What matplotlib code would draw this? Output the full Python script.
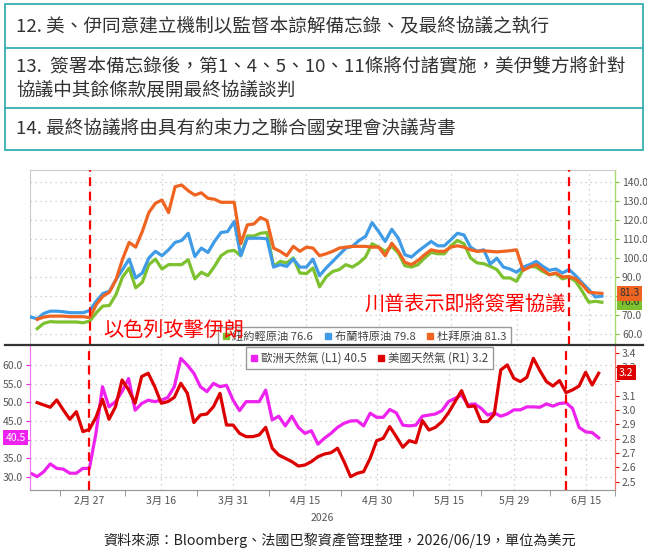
import numpy as np
import pandas as pd
import matplotlib
matplotlib.use('Agg')
import matplotlib.pyplot as plt
from matplotlib.patches import Rectangle
from matplotlib.lines import Line2D

plt.rcParams['font.family'] = ['Noto Sans CJK TC', 'DejaVu Sans']

# trading days shown on the chart
dates = pd.bdate_range('2026-02-16', '2026-06-17')
tick_dates = ['2026-02-27', '2026-03-16', '2026-03-31', '2026-04-15',
              '2026-04-30', '2026-05-15', '2026-05-29', '2026-06-15']
event_dates = ['2026-02-27', '2026-06-10']

nan = np.nan
wti = [nan, 62.7, 65.5, 66.4, 66.2, 66.2, 66.2, 66.2, 65.8, 66.7,
       71.1, 74.6, 74.9, 80.7, 89.9, 94.6, 84.2, 87.1, 96.4, 99.3,
       94.1, 96.4, 96.4, 96.4, 99.0, 88.9, 92.4, 90.6, 95.5, 101.1,
       103.4, 103.9, 101.1, 111.5, 111.5, 112.9, 113.3, 95.5, 98.1, 97.3,
       99.9, 92.0, 91.7, 94.6, 84.7, 89.9, 92.8, 93.8, 96.4, 95.1,
       97.3, 100.4, 107.4, 105.6, 103.4, 106.0, 102.5, 95.8, 95.1, 96.4,
       99.9, 102.8, 102.1, 102.1, 106.3, 109.1, 107.4, 99.9, 97.3, 96.9,
       95.5, 93.8, 89.4, 89.4, 87.6, 93.8, 95.5, 95.1, 92.8, 91.1,
       91.6, 88.9, 89.9, 87.6, 82.4, 76.6, 77.1, 76.6]
brent = [68.8, 67.9, 70.7, 71.9, 71.9, 71.6, 71.1, 71.1, 71.1, 72.3,
         77.2, 81.2, 82.4, 88.5, 93.8, 99.3, 89.4, 92.0, 99.9, 103.4,
         101.1, 104.2, 108.1, 109.1, 112.9, 100.7, 105.1, 102.8, 108.6, 113.3,
         113.8, 119.1, 101.1, 110.3, 110.3, 110.3, 110.0, 95.1, 96.4, 95.5,
         99.3, 95.1, 95.1, 99.3, 90.6, 94.6, 98.1, 101.6, 105.1, 106.0,
         109.1, 111.2, 118.5, 113.8, 108.6, 115.0, 110.3, 101.6, 100.4, 103.4,
         106.0, 108.6, 106.3, 106.3, 109.5, 112.9, 112.0, 105.6, 103.4, 104.2,
         96.7, 99.8, 95.1, 94.1, 92.4, 95.1, 96.4, 98.1, 95.5, 93.4,
         94.1, 92.0, 93.8, 90.6, 86.8, 83.3, 79.4, 79.8]
dubai = [nan, 67.6, 68.8, 69.3, 69.3, 69.3, 69.0, 69.0, 69.0, 68.5,
         75.4, 79.8, 81.9, 88.5, 99.3, 108.1, 105.6, 113.8, 123.8, 128.7,
         130.4, 123.8, 137.4, 138.3, 135.3, 133.0, 134.2, 131.3, 130.8, 129.2,
         129.2, 129.2, 107.4, 117.3, 117.8, 121.2, 119.6, 105.1, 103.4, 101.1,
         106.0, 103.4, 105.6, 105.1, 101.1, 102.1, 103.4, 105.1, 105.6, 106.0,
         106.0, 106.0, 105.6, 105.6, 101.1, 107.7, 103.4, 97.6, 96.4, 98.6,
         101.6, 104.2, 103.4, 103.4, 105.6, 106.3, 105.6, 104.2, 103.4, 103.7,
         103.4, 103.1, 103.4, 103.7, 104.2, 93.4, 95.1, 96.4, 93.8, 91.1,
         92.0, 89.9, 90.2, 88.9, 85.9, 81.9, 81.5, 81.3]
eu_gas = [31.0, 30.1, 31.4, 33.5, 32.3, 32.1, 31.0, 31.0, 32.3, 32.3,
          41.7, 54.2, 48.8, 50.2, 52.9, 56.4, 47.9, 49.7, 50.6, 50.2,
          50.6, 51.3, 54.2, 61.8, 60.0, 57.8, 54.2, 52.9, 55.1, 54.2,
          54.6, 50.6, 47.8, 50.2, 50.2, 50.2, 53.3, 45.3, 46.3, 43.7,
          46.3, 43.3, 41.7, 42.4, 38.8, 40.4, 41.7, 43.3, 44.4, 45.0,
          45.1, 43.7, 47.1, 46.0, 46.0, 48.1, 47.2, 43.9, 43.7, 43.9,
          46.3, 46.6, 46.9, 47.8, 50.2, 51.1, 52.0, 49.3, 49.6, 48.4,
          46.6, 47.2, 46.3, 46.9, 48.0, 48.0, 48.8, 48.8, 48.7, 49.6,
          49.0, 49.7, 49.9, 48.4, 43.3, 42.1, 41.9, 40.5]
us_gas = [nan, 3.051, 3.035, 3.019, 3.070, 3.000, 2.935, 2.988, 2.849, 2.865,
          2.949, 3.074, 2.935, 3.023, 3.209, 3.140, 3.047, 3.233, 3.256, 3.163,
          3.047, 3.058, 3.088, 3.186, 3.116, 2.912, 2.965, 2.972, 3.023, 3.116,
          2.895, 2.895, 2.837, 2.814, 2.814, 2.826, 2.879, 2.733, 2.686, 2.663,
          2.640, 2.609, 2.616, 2.640, 2.674, 2.693, 2.702, 2.733, 2.640, 2.535,
          2.558, 2.570, 2.663, 2.786, 2.802, 2.884, 2.814, 2.740, 2.786, 2.772,
          2.926, 2.860, 2.879, 2.919, 2.981, 3.058, 3.135, 3.023, 3.028, 2.919,
          2.919, 2.970, 3.279, 3.314, 3.221, 3.198, 3.228, 3.360, 3.274, 3.198,
          3.167, 3.205, 3.121, 3.140, 3.167, 3.263, 3.174, 3.256]

oil_names = ['紐約輕原油', '布蘭特原油', '杜拜原油']
oil_last = [76.6, 79.8, 81.3]
gas_names = ['歐洲天然氣 (L1)', '美國天然氣 (R1)']
gas_last = [40.5, 3.2]

header_rows = ['12. 美、伊同意建立機制以監督本諒解備忘錄、及最終協議之執行',
               '13.  簽署本備忘錄後，第1、4、5、10、11條將付諸實施，美伊雙方將針對',
               '協議中其餘條款展開最終協議談判',
               '14. 最終協議將由具有約束力之聯合國安理會決議背書']
source = '資料來源：Bloomberg、法國巴黎資產管理整理，2026/06/19，單位為美元'

GREEN = '#7DC22E'
BLUE = '#3F9BE6'
ORANGE = '#F06422'
MAGENTA = '#EE22EE'
RED = '#DD0000'
GRID = '#c4c4c4'

W, H = 647, 549
fig = plt.figure(figsize=(W / 100, H / 100), dpi=100)

def fx(px):
    return px / W

def fy(py):
    return 1 - py / H

def fmt_skip(skip):
    # hide the tick label that sits under a value tag
    def f(v, pos):
        return '' if abs(v - skip) < 1e-6 else '%.1f' % v
    return matplotlib.ticker.FuncFormatter(f)

x = np.arange(len(dates))
tick_idx = [dates.get_loc(pd.Timestamp(d)) for d in tick_dates]
tick_lab = ['%d月 %d' % (pd.Timestamp(d).month, pd.Timestamp(d).day) for d in tick_dates]
event_idx = [dates.get_loc(pd.Timestamp(d)) for d in event_dates]
minor_idx = [tick_idx[0] - 4.5] + [(a + b) / 2 for a, b in zip(tick_idx[:-1], tick_idx[1:])] + [tick_idx[-1] + 4.5]
xlim = (-0.1, 89.0)

# ---- header box
box_col = '#36AEB2'
fig.patches.append(Rectangle((fx(5), fy(150)), fx(638), 146 / H, transform=fig.transFigure,
                             fill=False, ec=box_col, lw=1.3))
for yy in (47.5, 107.5):
    fig.lines.append(Line2D([fx(5), fx(643)], [fy(yy), fy(yy)], transform=fig.transFigure,
                            color=box_col, lw=1.3))
for txt, yy in zip(header_rows, (26.5, 66, 90, 128)):
    fig.text(fx(16), fy(yy), txt, fontsize=13.4, color='#333333', va='center', ha='left')

# ---- top panel (oil)
ax1 = fig.add_axes([fx(30), fy(345), fx(585), 175 / H])
ax1.plot(x, wti, color=GREEN, lw=2.3, zorder=3)
ax1.plot(x, brent, color=BLUE, lw=2.3, zorder=3)
ax1.plot(x, dubai, color=ORANGE, lw=2.3, zorder=4)
ax1.set_xlim(*xlim)
ax1.set_ylim(54.1, 146.2)
ax1.set_yticks(np.arange(60, 141, 10))
ax1.yaxis.tick_right()
ax1.yaxis.set_major_formatter(fmt_skip(80))
ax1.tick_params(axis='y', labelsize=7.5, labelcolor='#555555', color=GREEN, length=3, pad=2)
ax1.set_xticks(tick_idx)
ax1.tick_params(axis='x', length=0, labelbottom=False)
ax1.grid(True, color=GRID, lw=0.9, ls=(0, (1, 3)))
for s in ('top', 'left'):
    ax1.spines[s].set_color('#cccccc')
ax1.spines['bottom'].set_visible(False)
ax1.spines['right'].set_color('#A8D870')
ax1.spines['right'].set_linewidth(1.0)

handles = [Line2D([], [], marker='s', ls='none', color=c, markersize=5) for c in (GREEN, BLUE, ORANGE)]
labels = ['%s %.1f' % (n, v) for n, v in zip(oil_names, oil_last)]
leg = ax1.legend(handles, labels, ncol=3, loc='lower left', bbox_to_anchor=(0.321, -0.01),
                 frameon=True, fancybox=False, edgecolor='#999999', fontsize=8.1,
                 handlelength=0.6, handletextpad=0.3, columnspacing=1.0, borderpad=0.4,
                 framealpha=1, borderaxespad=0)
for t in leg.get_texts():
    t.set_color('#444444')
leg.set_zorder(5)

tag_order = [(oil_last[1], BLUE), (oil_last[0], GREEN), (oil_last[2], ORANGE)]
for val, col in tag_order:
    ax1.annotate('%.1f' % val, xy=(1, val), xycoords=ax1.get_yaxis_transform(),
                 xytext=(3, 0), textcoords='offset points', ha='left', va='center',
                 fontsize=7.5, color='#333333', annotation_clip=False,
                 bbox=dict(boxstyle='square,pad=0.25', fc=col, ec='none'))

ax1.text(11.1, 61.4, '以色列攻擊伊朗', color='#FF0000', fontsize=14.5,
         ha='left', va='center', zorder=8)
ax1.text(50.8, 75.1, '川普表示即將簽署協議', color='#FF0000', fontsize=14.5,
         ha='left', va='center', zorder=8)

# ---- bottom panel (gas)
ax2 = fig.add_axes([fx(30), fy(490), fx(585), 145 / H])
ax2r = ax2.twinx()
ax2.plot(x, eu_gas, color=MAGENTA, lw=2.3, zorder=3)
ax2r.plot(x, us_gas, color=RED, lw=2.3, zorder=3)
ax2.set_xlim(*xlim)
ax2.set_ylim(26.5, 65.4)
ax2r.set_ylim(2.442, 3.453)
ax2.set_yticks(np.arange(30, 61, 5))
ax2r.set_yticks(np.arange(2.5, 3.41, 0.1))
ax2.yaxis.set_major_formatter(fmt_skip(40))
ax2r.yaxis.set_major_formatter(fmt_skip(3.2))
ax2.tick_params(axis='y', labelsize=7.5, labelcolor='#555555', color=MAGENTA, length=3, pad=2)
ax2r.tick_params(axis='y', labelsize=7.5, labelcolor='#555555', color=RED, length=3, pad=2)
ax2.set_xticks(tick_idx)
ax2.set_xticklabels(tick_lab)
ax2.set_xticks(minor_idx, minor=True)
ax2.tick_params(axis='x', which='major', length=0, labelsize=7.5, labelcolor='#555555', pad=4)
ax2.tick_params(axis='x', which='minor', length=4, color='#888888')
ax2.grid(True, color=GRID, lw=0.9, ls=(0, (1, 3)))
ax2r.grid(False)
for a in (ax2, ax2r):
    a.spines['top'].set_visible(False)
    a.spines['bottom'].set_color('#999999')
ax2.spines['left'].set_color('#F07AF0')
ax2r.spines['left'].set_color('#F07AF0')
ax2r.spines['right'].set_color('#F07070')
ax2.spines['right'].set_color('#F07070')

ax2.text(0.5, -0.16, '2026', transform=ax2.transAxes, ha='center', va='top',
         fontsize=7.5, color='#555555')

handles2 = [Line2D([], [], marker='s', ls='none', color=c, markersize=5) for c in (MAGENTA, RED)]
labels2 = ['%s %.1f' % (n, v) for n, v in zip(gas_names, gas_last)]
leg2 = ax2r.legend(handles2, labels2, ncol=2, loc='upper left', bbox_to_anchor=(0.369, 0.985),
                   frameon=True, fancybox=False, edgecolor='#999999', fontsize=8.3,
                   handlelength=0.6, handletextpad=0.3, columnspacing=1.0, borderpad=0.4,
                   framealpha=1, borderaxespad=0)
for t in leg2.get_texts():
    t.set_color('#444444')

ax2r.annotate('%.1f' % gas_last[1], xy=(1, 3.26), xycoords=ax2r.get_yaxis_transform(),
              xytext=(3, 0), textcoords='offset points', ha='left', va='center',
              fontsize=7.5, color='white', annotation_clip=False,
              bbox=dict(boxstyle='square,pad=0.25', fc=RED, ec='none'))
ax2.annotate('%.1f' % gas_last[0], xy=(0, gas_last[0]), xycoords=ax2.get_yaxis_transform(),
             xytext=(-3, 0), textcoords='offset points', ha='right', va='center',
             fontsize=7.5, color='white', annotation_clip=False,
             bbox=dict(boxstyle='square,pad=0.25', fc=MAGENTA, ec='none'))

# event markers across both panels
for ei in event_idx:
    for a in (ax1, ax2):
        a.axvline(ei, color='#FF0000', lw=1.6, ls=(0, (4, 2.5)), zorder=6)

# separator between panels
fig.lines.append(Line2D([fx(5), fx(643)], [fy(345), fy(345)], transform=fig.transFigure,
                        color='#333333', lw=1.6))

fig.text(fx(340), fy(540), source, fontsize=10.2, color='#222222', ha='center', va='center')

fig.savefig('out.png', dpi=100)
